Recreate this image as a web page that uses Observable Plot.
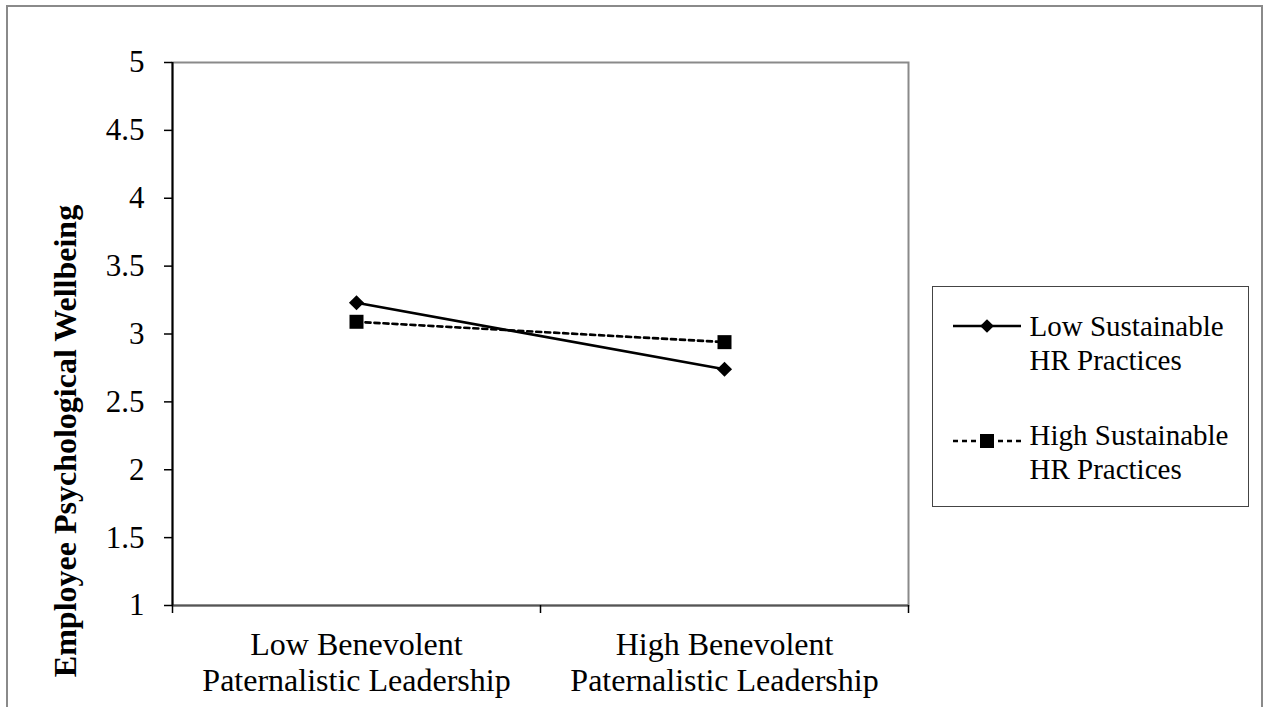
<!DOCTYPE html>
<html>
<head>
<meta charset="utf-8">
<script src="https://cdn.jsdelivr.net/npm/d3@7"></script>
<script src="https://cdn.jsdelivr.net/npm/@observablehq/plot@0.6"></script>
<style>
  html, body { margin: 0; padding: 0; background: #fff; }
  #wrap { position: relative; width: 1264px; height: 707px; overflow: hidden; background: #fff; font-family: "Liberation Serif", "Times New Roman", serif; }
  #outer { position: absolute; left: 6px; top: 5px; width: 1257px; height: 800px; border: 2px solid #8a8a8a; box-sizing: border-box; }
  #chart { position: absolute; left: 0; top: 0; }
  #ytitle { position: absolute; left: -234.8px; top: 424.5px; width: 600px; height: 32px; line-height: 32px; text-align: center; font-weight: bold; font-size: 32px; transform: rotate(-90deg); transform-origin: 50% 50%; white-space: nowrap; color: #000; }
  #legend { position: absolute; left: 932px; top: 286px; width: 317px; height: 221px; border: 1.5px solid #444; box-sizing: border-box; }
  .entry { position: absolute; font-size: 29px; line-height: 34px; color: #000; white-space: nowrap; }
  .sample { position: absolute; }
</style>
</head>
<body>
<div id="wrap">
  <div id="outer"></div>
  <div id="chart"></div>
  <div id="ytitle"></div>
  <div id="legend"></div>
</div>
<script>
// ---- data ----
const categories = ["Low Benevolent\nPaternalistic Leadership", "High Benevolent\nPaternalistic Leadership"];
const seriesNames = ["Low Sustainable\nHR Practices", "High Sustainable\nHR Practices"];
const lowSustainableHR = [3.23, 2.74];
const highSustainableHR = [3.09, 2.94];
const yTicks = [1, 1.5, 2, 2.5, 3, 3.5, 4, 4.5, 5];
const yTitle = "Employee Psychological Wellbeing";

// ---- table built from arrays ----
const rows = [];
categories.forEach((c, i) => {
  rows.push({pos: i + 0.5, value: lowSustainableHR[i], series: seriesNames[0]});
  rows.push({pos: i + 0.5, value: highSustainableHR[i], series: seriesNames[1]});
});
const catRows = categories.map((c, i) => ({pos: i + 0.5, label: c}));
const boundaries = d3.range(categories.length + 1);
const lowRows = rows.filter(d => d.series === seriesNames[0]);
const highRows = rows.filter(d => d.series === seriesNames[1]);

const font = "Liberation Serif";
const chart = Plot.plot({
  width: 1264,
  height: 707,
  marginTop: 62,
  marginBottom: 102,
  marginLeft: 172,
  marginRight: 356,
  style: {background: "none", fontFamily: font, fontSize: "31px", color: "#000"},
  x: {type: "linear", domain: [0, categories.length], axis: null},
  y: {domain: [1, 5], axis: null},
  marks: [
    Plot.frame({stroke: "#8a8a8a", strokeWidth: 2}),
    Plot.ruleY([1], {stroke: "#555", strokeWidth: 2}),
    Plot.ruleX([0], {stroke: "#000", strokeWidth: 2}),
    Plot.axisY({ticks: yTicks, tickSize: 8, tickPadding: 20, fontSize: 31, fontFamily: font, tickFormat: d => String(d), label: null, stroke: "#000", strokeWidth: 1.5}),
    Plot.axisX({ticks: boundaries, tickSize: 8, tickFormat: () => "", label: null, stroke: "#000", strokeWidth: 1.5}),
    Plot.text(catRows, {x: "pos", text: "label", frameAnchor: "bottom", lineAnchor: "top", dy: 24, fontSize: 32, fontFamily: font, lineHeight: 1.12, fill: "#000"}),
    Plot.line(lowRows, {x: "pos", y: "value", stroke: "#000", strokeWidth: 2.7}),
    Plot.line(highRows, {x: "pos", y: "value", stroke: "#000", strokeWidth: 2.7, strokeDasharray: "5,4"}),
    Plot.dot(lowRows, {x: "pos", y: "value", symbol: "diamond2", r: 6.8, fill: "#000", stroke: "none"}),
    Plot.dot(highRows, {x: "pos", y: "value", symbol: "square", r: 7.9, fill: "#000", stroke: "none"})
  ]
});
document.getElementById("chart").appendChild(chart);
document.getElementById("ytitle").textContent = yTitle;

// ---- legend ----
const legend = document.getElementById("legend");
const entries = [
  {name: seriesNames[0], dash: null, symbol: d3.symbolDiamond2, size: 120, lineY: 326, textTop: 309},
  {name: seriesNames[1], dash: "5,4", symbol: d3.symbolSquare, size: 196, lineY: 441, textTop: 418}
];
entries.forEach(e => {
  const svg = d3.create("svg").attr("class", "sample")
    .attr("width", 80).attr("height", 24)
    .style("left", (953 - 932 - 1.5) + "px")
    .style("top", (e.lineY - 12 - 286 - 1.5) + "px");
  svg.append("line").attr("x1", 0).attr("x2", 68).attr("y1", 12).attr("y2", 12)
    .attr("stroke", "#000").attr("stroke-width", 2.7)
    .attr("stroke-dasharray", e.dash);
  svg.append("path").attr("d", d3.symbol(e.symbol, e.size)())
    .attr("transform", "translate(34,12)").attr("fill", "#000");
  legend.appendChild(svg.node());
  const t = document.createElement("div");
  t.className = "entry";
  t.style.left = (1030 - 932 - 1.5) + "px";
  t.style.top = (e.textTop - 286 - 1.5) + "px";
  t.innerHTML = e.name.split("\n").join("<br>");
  legend.appendChild(t);
});
</script>
</body>
</html>
